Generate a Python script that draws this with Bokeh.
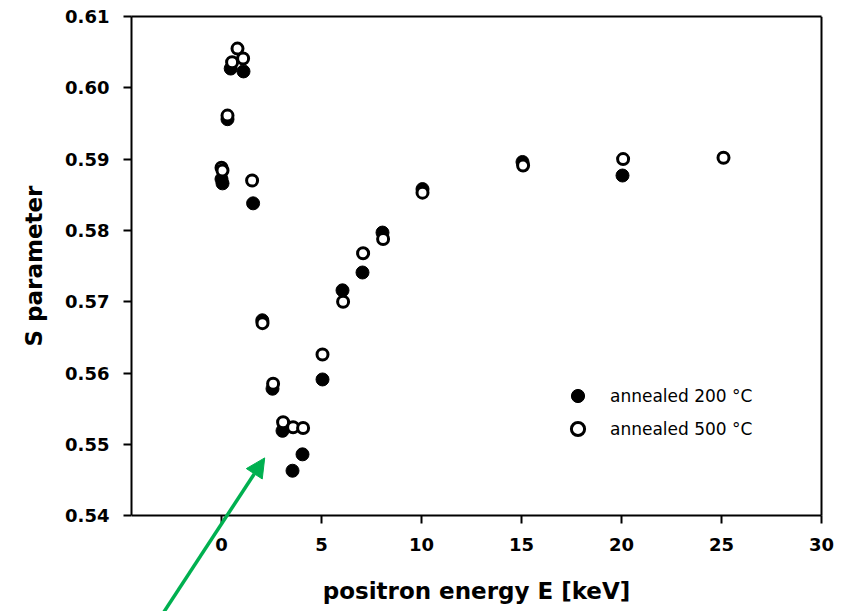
from bokeh.plotting import figure
from bokeh.models import (Range1d, FixedTicker, Legend, LegendItem, Arrow,
                          NormalHead, NumeralTickFormatter, LinearAxis, Title)
from bokeh.embed import file_html
from bokeh.resources import INLINE

# ---- data ----
energy_200 = [0.0, 0.05, 0.3, 0.46, 1.1, 1.58, 2.04, 2.55, 3.05, 3.55, 4.05,
              5.05, 6.05, 7.05, 8.05, 10.05, 15.05, 20.05]
s_200 = [0.5872, 0.5866, 0.5956, 0.6027, 0.6023, 0.5838, 0.5674, 0.5578,
         0.5519, 0.5463, 0.5486, 0.5591, 0.5716, 0.5741, 0.5797, 0.5858,
         0.5896, 0.5877]

energy_500 = [0.0, 0.05, 0.3, 0.53, 0.8, 1.08, 1.53, 2.05, 2.58, 3.08, 3.58,
              4.08, 5.05, 6.08, 7.08, 8.08, 10.05, 15.08, 20.08, 25.1]
s_500 = [0.5888, 0.5884, 0.5961, 0.6036, 0.6055, 0.6041, 0.5870, 0.5670,
         0.5585, 0.5531, 0.5524, 0.5523, 0.5626, 0.5700, 0.5768, 0.5788,
         0.5853, 0.5891, 0.5900, 0.5902]

x_ticks = [0, 5, 10, 15, 20, 25, 30]
y_ticks = [0.54, 0.55, 0.56, 0.57, 0.58, 0.59, 0.60, 0.61]
labels = ["annealed 200 \u00b0C", "annealed 500 \u00b0C"]
x_title = "positron energy E [keV]"
y_title = "S parameter"

X_MIN, X_MAX = -4.5, 30
Y_MIN, Y_MAX = 0.54, 0.61
# the frame reaches past the box (right and bottom) so that the
# arrow and the last tick label are not clipped
X_CANVAS_RIGHT = 31.45
Y_CANVAS_BOTTOM = 0.52656

FONT = "DejaVu Sans"
GREEN = "#00b050"

p = figure(width=850, height=611, output_backend="svg", toolbar_location=None,
           x_range=Range1d(X_MIN, X_CANVAS_RIGHT),
           y_range=Range1d(Y_CANVAS_BOTTOM, Y_MAX),
           x_axis_location=None, y_axis_location=None,
           min_border_left=131, min_border_right=0, min_border_top=16,
           min_border_bottom=0)

p.background_fill_color = "white"
p.border_fill_color = "white"
p.outline_line_color = None
p.xgrid.visible = False
p.ygrid.visible = False


def style(ax):
    ax.axis_line_width = 2
    ax.axis_line_color = "black"
    ax.major_tick_line_width = 2
    ax.major_tick_line_color = "black"
    ax.major_tick_in = 0
    ax.major_tick_out = 8
    ax.minor_tick_line_color = None
    ax.major_label_text_font = FONT
    ax.major_label_text_font_style = "bold"
    ax.major_label_text_font_size = "18px"
    ax.major_label_text_color = "black"
    ax.axis_label_text_font = FONT
    ax.axis_label_text_font_style = "bold"
    ax.axis_label_text_font_size = "23px"
    ax.axis_label_text_color = "black"
    ax.major_label_standoff = 14


yaxis = LinearAxis(ticker=FixedTicker(ticks=y_ticks),
                   formatter=NumeralTickFormatter(format="0.00"),
                   bounds=(Y_MIN, Y_MAX))
style(yaxis)
p.add_layout(yaxis, "left")

# y-axis title, placed so that it is centred on the box height
p.add_layout(Title(text=y_title, align="left", offset=265, standoff=31,
                   text_font=FONT, text_font_style="bold",
                   text_font_size="23px", text_color="black"), "left")

xaxis = LinearAxis(ticker=FixedTicker(ticks=x_ticks), axis_label=x_title,
                   fixed_location=Y_MIN, bounds=(X_MIN, X_MAX))
style(xaxis)
xaxis.axis_label_standoff = 24
p.add_layout(xaxis, "below")

# top and right border lines of the box
top = LinearAxis(ticker=FixedTicker(ticks=[]), axis_line_width=2,
                 axis_line_color="black", major_label_text_font_size="0px",
                 minor_tick_line_color=None, major_tick_line_color=None,
                 bounds=(X_MIN, X_MAX))
p.add_layout(top, "above")
right = LinearAxis(ticker=FixedTicker(ticks=[]), axis_line_width=2,
                   axis_line_color="black", major_label_text_font_size="0px",
                   minor_tick_line_color=None, major_tick_line_color=None,
                   bounds=(Y_MIN, Y_MAX), fixed_location=X_MAX)
p.add_layout(right, "right")

r200 = p.scatter(energy_200, s_200, marker="circle", size=13,
                 fill_color="black", line_color="black", line_width=1)
r500 = p.scatter(energy_500, s_500, marker="circle", size=11,
                 fill_color="white", line_color="black", line_width=3)

legend = Legend(items=[LegendItem(label=labels[0], renderers=[r200]),
                       LegendItem(label=labels[1], renderers=[r500])],
                location=(430, 166), border_line_color=None,
                background_fill_alpha=0, padding=0, spacing=-7,
                glyph_width=33, glyph_height=33, label_height=33,
                label_standoff=16, label_text_font=FONT,
                label_text_font_size="17px", label_text_color="black")
p.add_layout(legend)

arrow_x = [-2.95, 2.16]
arrow_y = [0.5262, 0.5481]
arrow = Arrow(end=NormalHead(size=19, fill_color=GREEN, line_color=GREEN),
              x_start=arrow_x[0], y_start=arrow_y[0],
              x_end=arrow_x[1], y_end=arrow_y[1],
              line_color=GREEN, line_width=3.5)
p.add_layout(arrow)

open("out.html", "w").write(file_html(p, INLINE))
